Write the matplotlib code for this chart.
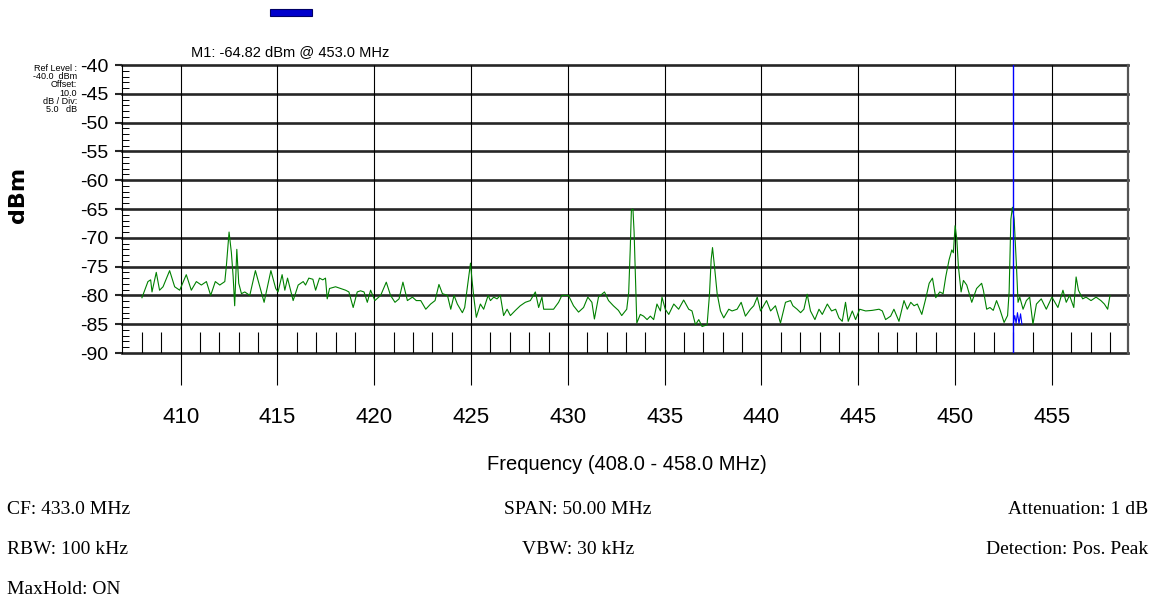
import matplotlib
matplotlib.use("Agg")
import matplotlib.pyplot as plt
from matplotlib.ticker import MultipleLocator
from matplotlib.patches import Rectangle

# =========================
# data
# =========================

freq_mhz = [
    408.00, 408.31, 408.45, 408.52, 408.74, 408.91, 409.09, 409.43, 409.69, 409.95,
    410.29, 410.55, 410.81, 411.07, 411.33, 411.55, 411.79, 412.02, 412.28, 412.36,
    412.50, 412.62, 412.71, 412.79, 412.90, 413.00, 413.14, 413.31, 413.57, 413.86,
    414.09, 414.31, 414.66, 414.91, 415.03, 415.24, 415.38, 415.52, 415.81, 416.07,
    416.33, 416.45, 416.62, 416.83, 416.97, 417.17, 417.34, 417.48, 417.57, 417.69,
    418.00, 418.26, 418.52, 418.69, 418.91, 419.12, 419.29, 419.47, 419.64, 419.81,
    420.03, 420.33, 420.62, 420.84, 421.07, 421.28, 421.48, 421.71, 421.97, 422.17,
    422.40, 422.66, 422.91, 423.14, 423.34, 423.52, 423.78, 423.95, 424.12, 424.29,
    424.55, 424.67, 424.85, 424.97, 425.05, 425.14, 425.27, 425.48, 425.65, 425.88,
    426.00, 426.17, 426.34, 426.51, 426.68, 426.86, 427.03, 427.29, 427.54, 427.80,
    428.06, 428.32, 428.49, 428.66, 428.75, 428.92, 429.26, 429.52, 429.69, 430.03,
    430.29, 430.55, 430.81, 431.03, 431.24, 431.37, 431.58, 431.89, 432.10, 432.35,
    432.61, 432.78, 433.04, 433.14, 433.22, 433.28, 433.36, 433.42, 433.48, 433.56,
    433.74, 433.91, 434.09, 434.26, 434.43, 434.60, 434.78, 434.86, 435.03, 435.21,
    435.47, 435.72, 435.98, 436.24, 436.41, 436.59, 436.76, 436.93, 437.19, 437.31,
    437.40, 437.47, 437.57, 437.71, 437.88, 438.05, 438.31, 438.48, 438.74, 438.95,
    439.17, 439.43, 439.60, 439.78, 439.95, 440.26, 440.47, 440.72, 440.98, 441.24,
    441.50, 441.62, 441.84, 442.02, 442.19, 442.36, 442.53, 442.76, 442.97, 443.14,
    443.40, 443.62, 443.83, 444.00, 444.17, 444.34, 444.48, 444.69, 444.86, 445.07,
    445.38, 445.72, 446.07, 446.24, 446.41, 446.67, 446.84, 447.10, 447.36, 447.53,
    447.71, 447.88, 448.05, 448.28, 448.48, 448.66, 448.83, 449.00, 449.21, 449.38,
    449.52, 449.69, 449.83, 449.91, 450.00, 450.09, 450.17, 450.31, 450.43, 450.60,
    450.86, 451.11, 451.37, 451.46, 451.63, 451.80, 451.97, 452.14, 452.31, 452.53,
    452.71, 452.79, 452.88, 452.96, 453.05, 453.17, 453.25, 453.34, 453.51, 453.68,
    453.85, 454.02, 454.20, 454.45, 454.71, 455.00, 455.31, 455.57, 455.74, 455.91,
    456.13, 456.25, 456.37, 456.59, 456.76, 457.02, 457.28, 457.53, 457.71, 457.88,
    458.00,
]

level_dbm = [
    -80.4, -77.6, -77.3, -79.4, -76.0, -79.1, -78.5, -75.7, -78.5, -79.1,
    -76.4, -79.1, -77.6, -78.2, -77.6, -80.0, -77.6, -78.2, -77.6, -74.9,
    -69.0, -72.6, -76.7, -81.8, -72.0, -77.9, -79.7, -79.4, -80.0, -75.7,
    -78.5, -81.2, -75.7, -78.8, -79.4, -76.4, -79.1, -77.0, -80.9, -78.2,
    -77.6, -78.2, -77.0, -77.2, -79.1, -77.0, -77.3, -77.0, -80.6, -78.8,
    -78.5, -78.8, -79.1, -79.4, -82.1, -79.4, -79.2, -79.4, -81.2, -79.1,
    -80.9, -80.0, -77.7, -80.0, -81.2, -80.6, -77.7, -80.9, -80.3, -80.9,
    -80.9, -82.4, -81.5, -80.9, -78.1, -79.7, -80.0, -82.4, -80.0, -81.5,
    -83.0, -82.1, -77.4, -74.4, -77.4, -80.3, -83.8, -81.5, -82.4, -80.0,
    -80.9, -80.3, -80.6, -80.0, -83.5, -82.4, -83.5, -82.6, -81.8, -81.2,
    -80.9, -79.4, -82.1, -80.3, -82.4, -82.4, -82.4, -81.2, -80.0, -80.0,
    -81.8, -82.9, -82.1, -80.3, -81.2, -84.1, -80.3, -79.4, -80.9, -81.8,
    -82.6, -83.5, -82.4, -79.5, -72.0, -65.2, -65.0, -69.0, -76.0, -84.8,
    -83.3, -83.6, -84.2, -83.6, -84.2, -81.5, -82.7, -80.3, -82.4, -83.3,
    -81.5, -82.4, -80.8, -82.4, -82.7, -85.1, -84.2, -85.4, -85.1, -80.0,
    -73.8, -71.7, -74.9, -79.7, -82.7, -83.9, -82.4, -82.7, -82.4, -81.2,
    -83.6, -82.4, -81.8, -80.3, -82.7, -80.9, -82.7, -81.8, -84.8, -81.2,
    -80.9, -81.8, -82.4, -83.0, -82.4, -79.8, -82.7, -84.2, -82.4, -83.3,
    -81.5, -82.7, -82.4, -83.9, -84.5, -81.2, -84.5, -82.7, -84.2, -82.4,
    -82.7, -82.6, -82.4, -82.7, -84.2, -83.6, -82.4, -84.5, -80.9, -82.4,
    -81.2, -81.8, -81.5, -83.3, -80.6, -77.9, -77.0, -80.4, -79.4, -79.7,
    -76.7, -73.8, -72.1, -72.6, -67.9, -70.3, -75.0, -79.4, -77.4, -78.2,
    -81.2, -78.8, -77.9, -79.1, -82.4, -82.1, -82.6, -80.9, -82.4, -84.7,
    -83.5, -79.4, -66.8, -64.7, -66.8, -75.0, -81.2, -80.3, -82.4, -80.9,
    -80.3, -85.0, -81.5, -80.6, -82.4, -80.3, -82.1, -79.1, -81.2, -80.0,
    -82.1, -76.8, -79.1, -80.6, -80.3, -80.9, -80.3, -80.9, -81.5, -82.4,
    -80.0,
]

# small blue marker trace sitting under the marker line
marker_trace_freq = [453.00, 453.08, 453.15, 453.22, 453.30, 453.38, 453.45]
marker_trace_dbm = [-85.0, -83.5, -84.8, -83.0, -84.9, -83.2, -85.0]

marker_freq = 453.0
marker_level = -64.82

y_ticks = [-40, -45, -50, -55, -60, -65, -70, -75, -80, -85, -90]
x_ticks = [410, 415, 420, 425, 430, 435, 440, 445, 450, 455]
minor_x = [f for f in range(408, 459) if f % 5 != 0]

f_start = 408.0
f_stop = 458.0

left_info = ["CF: 433.0 MHz", "RBW: 100 kHz", "MaxHold: ON"]
mid_info = ["SPAN: 50.00 MHz", "VBW: 30 kHz"]
right_info = ["Attenuation: 1 dB", "Detection: Pos. Peak"]

# =========================
# figure
# =========================

plt.rcParams["font.family"] = ["Liberation Sans", "DejaVu Sans"]

W, H = 1154, 610
fig = plt.figure(figsize=(W / 100, H / 100), dpi=100)
fig.patch.set_facecolor("white")

ax_l, ax_r, ax_t, ax_b = 122, 1128, 65, 353
ax = fig.add_axes([ax_l / W, 1 - ax_b / H, (ax_r - ax_l) / W, (ax_b - ax_t) / H])

ax.set_xlim(406.97, 458.93)
ax.set_ylim(-90, -40)

# horizontal grid (thick) and vertical grid (thin, going below the frame)
for v in y_ticks:
    ax.axhline(v, color="#262626", lw=1.9, zorder=1, clip_on=False)
ax.vlines(x_ticks, -0.11, 1, transform=ax.get_xaxis_transform(),
          color="black", lw=0.8, zorder=1, clip_on=False)
ax.vlines(minor_x, -90, -86.3, color="black", lw=0.8, zorder=1)

# trace
ax.plot(freq_mhz, level_dbm, color="#008000", lw=0.8, zorder=3)
ax.plot(marker_trace_freq, marker_trace_dbm, color="#0000ff", lw=0.8, zorder=3)
ax.axvline(marker_freq, color="#0000ff", lw=1.0, zorder=4)

for side in ["top", "bottom"]:
    ax.spines[side].set_visible(False)
ax.spines["left"].set_color("black")
ax.spines["left"].set_linewidth(0.8)
ax.spines["right"].set_color("#555555")
ax.spines["right"].set_linewidth(1.6)

ax.set_yticks(y_ticks)
ax.set_yticklabels([str(v) for v in y_ticks], fontsize=14)
ax.yaxis.set_minor_locator(MultipleLocator(1))
ax.tick_params(axis="y", which="major", direction="out", length=5, width=1.5,
               color="#262626", pad=5)
ax.tick_params(axis="y", which="minor", direction="in", length=5, width=0.7, color="black")

ax.set_xticks(x_ticks)
ax.set_xticklabels([str(v) for v in x_ticks], fontsize=16)
ax.tick_params(axis="x", which="both", length=0, pad=39)

ax.set_xlabel(f"Frequency ({f_start:.1f} - {f_stop:.1f} MHz)", fontsize=14.5, va="center")
ax.xaxis.set_label_coords((627 - ax_l) / (ax_r - ax_l), (ax_b - 465) / (ax_b - ax_t))

ax.set_ylabel("dBm", fontsize=16, fontweight="bold", family="DejaVu Sans", va="center")
ax.yaxis.set_label_coords((18 - ax_l) / (ax_r - ax_l), (ax_b - 195) / (ax_b - ax_t))

# reference level block next to the top labels
fig.text(77 / W, 1 - 89 / H, "Ref Level :\n-40.0  dBm\nOffset:\n10.0\ndB / Div:\n5.0   dB",
         ha="right", va="center", fontsize=6.5, linespacing=0.9, multialignment="right")

# marker readout
fig.patches.append(Rectangle((270 / W, 1 - 16 / H), 42 / W, 7 / H, transform=fig.transFigure,
                             facecolor="#0000cc", edgecolor="#000066", lw=0.8))
fig.text(290 / W, 1 - 52 / H, f"M1: {marker_level:.2f} dBm @ {marker_freq:.1f} MHz",
         ha="center", va="center", fontsize=10.5)

# settings at the bottom
serif = ["Liberation Serif", "DejaVu Serif"]
rows_y = [509, 550, 590]
for i, s in enumerate(left_info):
    fig.text(7 / W, 1 - rows_y[i] / H, s, ha="left", va="center", fontsize=14, family=serif)
for i, s in enumerate(mid_info):
    fig.text(578 / W, 1 - rows_y[i] / H, s, ha="center", va="center", fontsize=14, family=serif)
for i, s in enumerate(right_info):
    fig.text(1148 / W, 1 - rows_y[i] / H, s, ha="right", va="center", fontsize=14, family=serif)

fig.savefig("out.png", dpi=100)
